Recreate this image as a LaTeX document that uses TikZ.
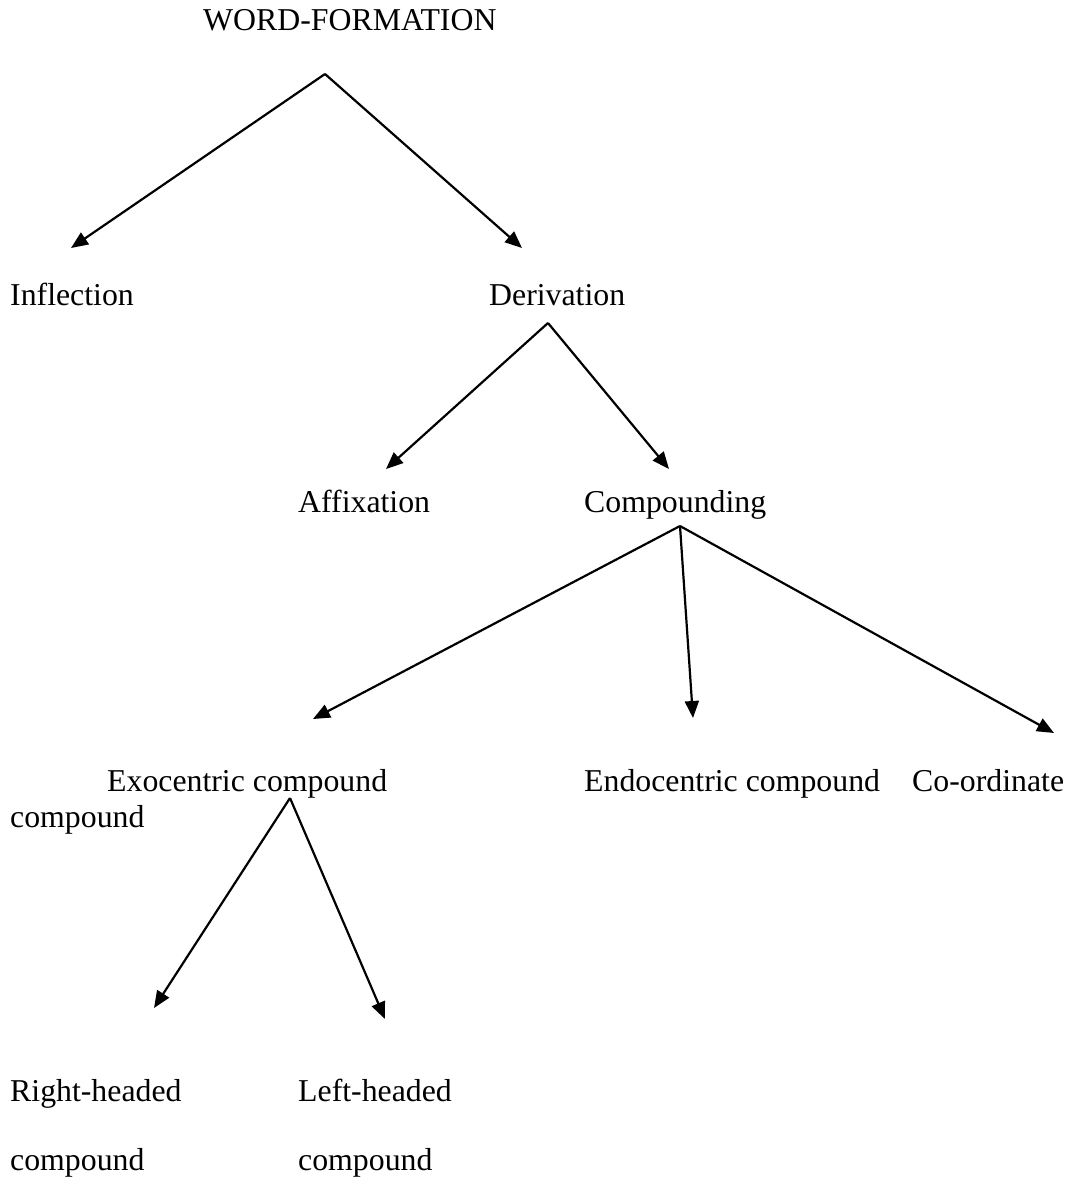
\documentclass[tikz,border=0pt]{standalone}
\usepackage{fontspec}
\setmainfont{Liberation Serif}
\usetikzlibrary{arrows.meta}
\begin{document}
\begin{tikzpicture}[x=1pt,y=-1pt,
  lbl/.style={anchor=base west,inner sep=0pt,font=\fontsize{31.8}{38}\selectfont},
  arr/.style={line width=2.2pt,-{Triangle[length=17pt,width=14pt]}}]
\useasboundingbox (0,0) rectangle (1070,1180);
% labels
\node[lbl] (wf) at (203,31) {WORD-FORMATION};
\node[lbl] (infl) at (10,305) {Inflection};
\node[lbl] (deriv) at (489,305) {Derivation};
\node[lbl] (affix) at (298,512) {Affixation};
\node[lbl] (comp) at (584,512) {Compounding};
\node[lbl] (exo) at (107,791) {Exocentric compound};
\node[lbl] (exo2) at (10,827) {compound};
\node[lbl] (endo) at (584,791) {Endocentric compound};
\node[lbl] (coord) at (912,791) {Co-ordinate};
\node[lbl] (rh) at (10,1101) {Right-headed};
\node[lbl] (rh2) at (10,1170) {compound};
\node[lbl] (lh) at (298,1101) {Left-headed};
\node[lbl] (lh2) at (298,1170) {compound};
% connector ends
\coordinate (a1) at (325,74);
\coordinate (t1) at (71,248);
\coordinate (t2) at (522,248);
\coordinate (a2) at (548,323);
\coordinate (t3) at (386,469);
\coordinate (t4) at (669,469);
\coordinate (a3) at (680,526);
\coordinate (t5) at (313,719);
\coordinate (t6) at (693,718);
\coordinate (t7) at (1054,733);
\coordinate (a4) at (290,798);
\coordinate (t8) at (154,1008);
\coordinate (t9) at (385,1019);
% connectors
\draw[arr] (a1) -- (t1);
\draw[arr] (a1) -- (t2);
\draw[arr] (a2) -- (t3);
\draw[arr] (a2) -- (t4);
\draw[arr] (a3) -- (t5);
\draw[arr] (a3) -- (t6);
\draw[arr] (a3) -- (t7);
\draw[arr] (a4) -- (t8);
\draw[arr] (a4) -- (t9);
\end{tikzpicture}
\end{document}
